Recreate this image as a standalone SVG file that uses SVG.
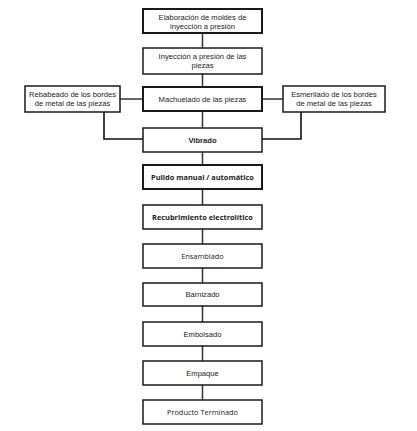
<svg xmlns="http://www.w3.org/2000/svg" width="417" height="431" viewBox="0 0 417 431">
<style>
.box{fill:#fff;stroke:#1a1a1a;stroke-width:1.5}
.thick{stroke-width:2}
.t{font-family:"Liberation Sans",Arial,sans-serif;font-size:7.6px;fill:#222;text-anchor:middle}
.b{font-weight:bold;fill:#222}
.c{font-family:"Open Sans","Liberation Sans",sans-serif;font-size:7.4px;fill:#222;text-anchor:middle}
.ln{fill:none;stroke:#333;stroke-width:1.5}
.lnk{fill:none;stroke:#111;stroke-width:1.6}
</style>
<rect width="417" height="431" fill="#fff"/>
<g id="connectors">
<line class="ln" x1="202.5" y1="33" x2="202.5" y2="48"/>
<line class="ln" x1="202.5" y1="74" x2="202.5" y2="87"/>
<line class="ln" x1="202.5" y1="111" x2="202.5" y2="128"/>
<line class="ln" x1="120" y1="99" x2="143" y2="99"/>
<line class="ln" x1="262" y1="99" x2="283" y2="99"/>
<polyline class="lnk" points="104,112 104,139 143,139"/>
<polyline class="lnk" points="301,112 301,139 262,139"/>
<line class="ln" x1="202.5" y1="152" x2="202.5" y2="165"/>
<line class="ln" x1="202.5" y1="189" x2="202.5" y2="205"/>
<line class="ln" x1="202.5" y1="229" x2="202.5" y2="244"/>
<line class="ln" x1="202.5" y1="268" x2="202.5" y2="283"/>
<line class="ln" x1="202.5" y1="306" x2="202.5" y2="322"/>
<line class="ln" x1="202.5" y1="346" x2="202.5" y2="361"/>
<line class="ln" x1="202.5" y1="385" x2="202.5" y2="400"/>
</g>
<g id="n1"><rect class="box thick" x="143" y="9" width="119" height="24"/>
<text class="t" x="202.5" y="19.5">Elaboración de moldes de</text>
<text class="t" x="202.5" y="28.5">inyección a presión</text></g>
<g id="n2"><rect class="box" x="143" y="48" width="119" height="26"/>
<text class="t" x="202.5" y="59">Inyección a presión  de las</text>
<text class="t" x="202.5" y="68">piezas</text></g>
<g id="n3"><rect class="box thick" x="143" y="87" width="119" height="24"/>
<text class="t" x="202.5" y="101.5">Machuelado de las piezas</text></g>
<g id="n4"><rect class="box" x="25" y="86" width="95" height="26"/>
<text class="t" x="72.5" y="96.5">Rebabeado de los bordes</text>
<text class="t" x="72.5" y="105.5">de metal de las piezas</text></g>
<g id="n5"><rect class="box" x="283" y="86" width="102" height="26"/>
<text class="t" x="334" y="96.5">Esmerilado de los bordes</text>
<text class="t" x="334" y="105.5">de metal de las piezas</text></g>
<g id="n6"><rect class="box" x="143" y="128" width="119" height="24"/>
<text class="t b" x="202.5" y="142.5">Vibrado</text></g>
<g id="n7"><rect class="box thick" x="143" y="165" width="119" height="24"/>
<text class="c b" x="202.5" y="179.5">Pulido manual / automático</text></g>
<g id="n8"><rect class="box" x="143" y="205" width="119" height="24"/>
<text class="c b" x="202.5" y="219.5">Recubrimiento electrolítico</text></g>
<g id="n9"><rect class="box" x="143" y="244" width="119" height="24"/>
<text class="c" x="202.5" y="258.5">Ensamblado</text></g>
<g id="n10"><rect class="box" x="143" y="283" width="119" height="23"/>
<text class="t" x="202.5" y="297">Barnizado</text></g>
<g id="n11"><rect class="box" x="143" y="322" width="119" height="24"/>
<text class="t" x="202.5" y="336.5">Embolsado</text></g>
<g id="n12"><rect class="box" x="143" y="361" width="119" height="24"/>
<text class="t" x="202.5" y="375.5">Empaque</text></g>
<g id="n13"><rect class="box" x="143" y="400" width="119" height="24"/>
<text class="c" x="202.5" y="414.5">Producto Terminado</text></g>
</svg>
